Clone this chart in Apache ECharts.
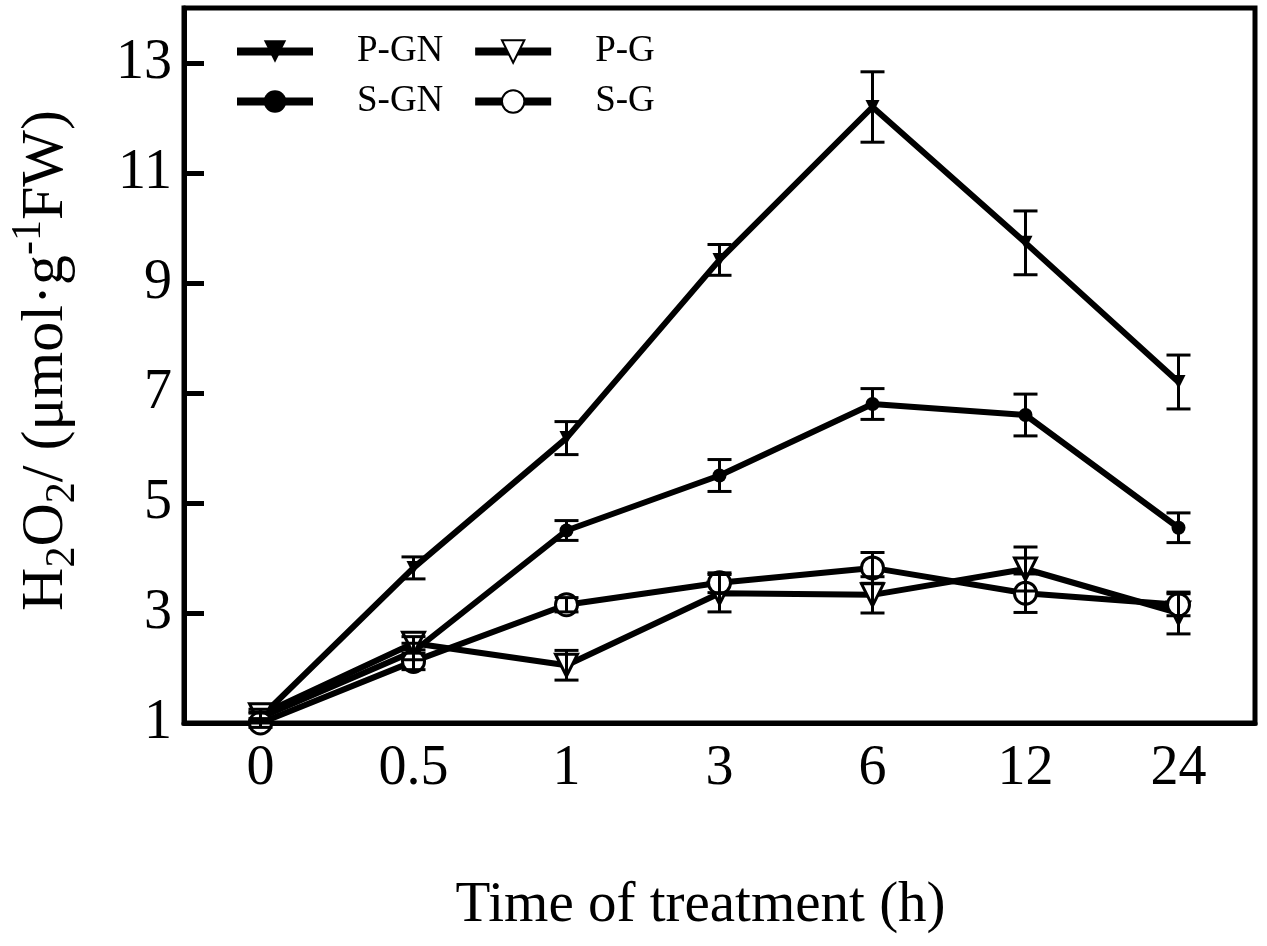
<!DOCTYPE html>
<html>
<head>
<meta charset="utf-8">
<title>H2O2</title>
<script src="https://cdn.jsdelivr.net/npm/echarts@6/dist/echarts.min.js"></script>
<style>
    html, body {margin: 0; padding: 0; background: #fff;}
    #main {width: 1267px; height: 946px;}
</style>
</head>
<body>
<div id="main"></div>
<script>
/*数据*/
var hours = ['0', '0.5', '1', '3', '6', '12', '24'];
var yTicks = [1, 3, 5, 7, 9, 11, 13];

var pgn = [1.1, 3.82, 6.18, 9.42, 12.2, 9.73, 7.2];
var pgnErr = [0.1, 0.2, 0.3, 0.28, 0.64, 0.58, 0.49];
var sgn = [1.1, 2.3, 4.5, 5.5, 6.8, 6.6, 4.55];
var sgnErr = [0.08, 0.15, 0.18, 0.29, 0.28, 0.38, 0.27];
var pg = [1.15, 2.45, 2.05, 3.36, 3.33, 3.8, 3.0];
var pgErr = [0.1, 0.12, 0.27, 0.34, 0.33, 0.4, 0.38];
var sg = [1.0, 2.12, 3.15, 3.55, 3.82, 3.36, 3.15];
var sgErr = [0.08, 0.15, 0.13, 0.18, 0.28, 0.35, 0.2];

var font = 'Liberation Serif';

// [x, low, high] for the error bars
function errData(vals, errs) {
    var out = [];
    for (var i = 0; i < vals.length; i++) {
        out.push([i, vals[i] - errs[i], vals[i] + errs[i]]);
    }
    return out;
}

function renderErr(params, api) {
    var lo = api.coord([api.value(0), api.value(1)]);
    var hi = api.coord([api.value(0), api.value(2)]);
    var half = 12;
    var st = {stroke: '#000', lineWidth: 3};
    return {
        type: 'group',
        children: [
            {type: 'line', shape: {x1: lo[0], y1: lo[1], x2: hi[0], y2: hi[1]}, style: st},
            {type: 'line', shape: {x1: lo[0] - half, y1: lo[1], x2: lo[0] + half, y2: lo[1]}, style: st},
            {type: 'line', shape: {x1: hi[0] - half, y1: hi[1], x2: hi[0] + half, y2: hi[1]}, style: st}
        ]
    };
}

function lineSeries(name, data, symbol, size, hollow) {
    return {
        name: name,
        type: 'line',
        data: data,
        symbol: symbol,
        symbolSize: size,
        symbolRotate: symbol == 'triangle' ? 180 : 0,
        showAllSymbol: true,
        lineStyle: {color: '#000', width: 6},
        itemStyle: hollow ? {color: '#fff', borderColor: '#000', borderWidth: 3}
                          : {color: '#000', borderColor: '#000', borderWidth: 0},
        z: 2
    };
}

function errSeries(vals, errs) {
    return {
        type: 'custom',
        renderItem: renderErr,
        data: errData(vals, errs),
        silent: true,
        z: 3
    };
}

var myChart = echarts.init(document.getElementById('main'));
var option = {
    backgroundColor: '#fff',
    animation: false,
    grid: {
        left: 183, right: 12, top: 8, bottom: 223,
        show: true, borderColor: '#000', borderWidth: 5
    },
    legend: {
        data: ['P-GN', 'P-G', 'S-GN', 'S-G'],
        left: 228,
        top: 28,
        width: 490,
        itemWidth: 76,
        itemHeight: 28,
        itemGap: 13,
        lineStyle: {width: 8},
        // 补一点右侧空白，让第二列往右
        formatter: function (name) {
            return name + '\u2009\u2009';
        },
        textStyle: {
            fontFamily: font, fontSize: 37, color: '#000',
            padding: [0, 0, 0, 39]
        }
    },
    xAxis: {
        type: 'category',
        data: hours,
        boundaryGap: true,
        name: 'Time of treatment (h)',
        nameLocation: 'middle',
        nameGap: 155,
        nameTextStyle: {fontFamily: font, fontSize: 57, color: '#000', padding: [0, 38, 0, 0]},
        axisLine: {lineStyle: {color: '#000', width: 5}},
        axisTick: {inside: true, alignWithLabel: true, length: 20, lineStyle: {color: '#000', width: 5}},
        axisLabel: {fontFamily: font, fontSize: 56, color: '#000', margin: 18},
        splitLine: {show: false}
    },
    yAxis: {
        type: 'value',
        min: 1,
        max: 14,
        name: '{n|H}{s|2}{n|O}{s|2}{n|/ (μmol·g}{p|-1}{n|FW)}',
        nameLocation: 'middle',
        nameRotate: 90,
        nameGap: 100,
        nameTextStyle: {
            fontFamily: font, fontSize: 60, color: '#000',
            padding: [0, 0, 0, 10],
            rich: {
                n: {fontFamily: font, fontSize: 60, color: '#000'},
                s: {fontFamily: font, fontSize: 42, color: '#000', padding: [34, 0, 0, 0]},
                p: {fontFamily: font, fontSize: 42, color: '#000', padding: [0, 0, 34, 0]}
            }
        },
        axisLine: {show: true, lineStyle: {color: '#000', width: 5}},
        axisTick: {show: true, inside: true, length: 20, customValues: yTicks, lineStyle: {color: '#000', width: 5}},
        axisLabel: {fontFamily: font, fontSize: 56, color: '#000', margin: 12, customValues: yTicks},
        splitLine: {show: false}
    },
    series: [
        lineSeries('P-GN', pgn, 'triangle', 14, false),
        lineSeries('S-GN', sgn, 'circle', 14, false),
        lineSeries('P-G', pg, 'triangle', 22, true),
        lineSeries('S-G', sg, 'circle', 22, true),
        errSeries(pgn, pgnErr),
        errSeries(sgn, sgnErr),
        errSeries(pg, pgErr),
        errSeries(sg, sgErr)
    ]
};
myChart.setOption(option);
</script>
</body>
</html>
